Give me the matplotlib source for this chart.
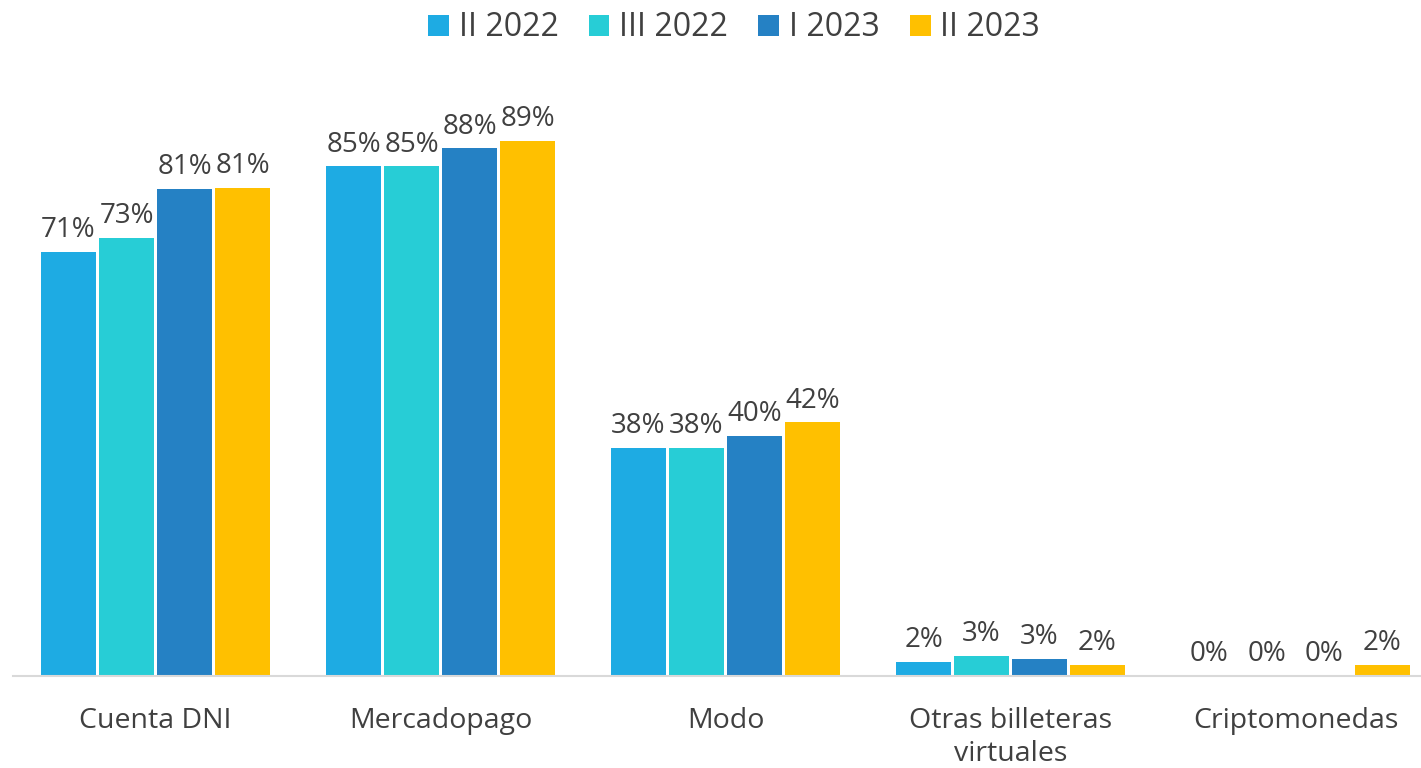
import matplotlib
matplotlib.use('Agg')
import matplotlib.pyplot as plt
import numpy as np

categories = ['Cuenta DNI', 'Mercadopago', 'Modo', 'Otras billeteras\nvirtuales', 'Criptomonedas']
series = ['II 2022', 'III 2022', 'I 2023', 'II 2023']
ii_2022 = [70.6, 84.8, 37.9, 2.4, 0.0]
iii_2022 = [72.9, 84.8, 37.9, 3.4, 0.0]
i_2023 = [81.0, 87.8, 39.9, 2.9, 0.0]
ii_2023 = [81.2, 89.0, 42.2, 1.8, 1.8]
colors = ['#1EABE3', '#27CDD6', '#2581C4', '#FFC000']

plt.rcParams['font.family'] = ['Open Sans', 'DejaVu Sans']
txt = '#404040'

fig = plt.figure(figsize=(14.21, 7.68), dpi=100)
ax = fig.add_axes([13/1421, 92/768, 1425/1421, 601/768])

x = np.arange(len(categories))
stride = 0.2035
width = 0.19
for i, (name, vals) in enumerate(zip(series, [ii_2022, iii_2022, i_2023, ii_2023])):
    pos = x + (i - 1.5) * stride
    ax.bar(pos, vals, width=width, color=colors[i], label=name)
    for p, v in zip(pos, vals):
        ax.text(p, v + 1.3, f'{v:.0f}%', ha='center', va='bottom', fontsize=20, color=txt)

ax.set_xlim(-0.5, 4.5)
ax.set_ylim(0, 100)
ax.set_yticks([])
ax.set_xticks(x)
ax.set_xticklabels(categories, fontsize=20.5, color=txt, linespacing=1.25)
ax.tick_params(axis='x', length=0, pad=22)
for s in ['top', 'right', 'left']:
    ax.spines[s].set_visible(False)
ax.spines['bottom'].set_color('#d9d9d9')
ax.spines['bottom'].set_linewidth(1.5)

leg = fig.legend(loc='center', bbox_to_anchor=(734/1421, 1 - 28/768), ncol=4, frameon=False,
                 fontsize=23, handlelength=0.65, handleheight=0.65, handletextpad=0.3, columnspacing=0.95)
for t in leg.get_texts():
    t.set_color(txt)

plt.savefig('out.png', dpi=100)
